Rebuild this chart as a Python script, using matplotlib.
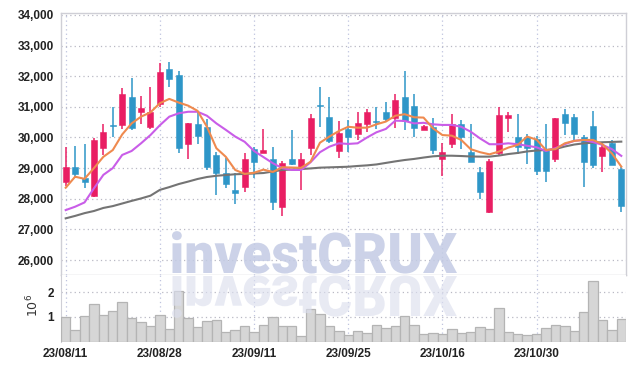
import numpy as np
import matplotlib
matplotlib.use("Agg")
import matplotlib.pyplot as plt
from matplotlib.textpath import TextPath
from matplotlib.patches import PathPatch
from matplotlib.font_manager import FontProperties
from matplotlib.transforms import Affine2D

# trading days (Korean market, 2023)
dates = ["23/08/11", "23/08/14", "23/08/16", "23/08/17", "23/08/18", "23/08/21", "23/08/22",
         "23/08/23", "23/08/24", "23/08/25", "23/08/28", "23/08/29", "23/08/30", "23/08/31",
         "23/09/01", "23/09/04", "23/09/05", "23/09/06", "23/09/07", "23/09/08", "23/09/11",
         "23/09/12", "23/09/13", "23/09/14", "23/09/15", "23/09/18", "23/09/19", "23/09/20",
         "23/09/21", "23/09/22", "23/09/25", "23/09/26", "23/09/27", "23/10/04", "23/10/05",
         "23/10/06", "23/10/10", "23/10/11", "23/10/12", "23/10/13", "23/10/16", "23/10/17",
         "23/10/18", "23/10/19", "23/10/20", "23/10/23", "23/10/24", "23/10/25", "23/10/26",
         "23/10/27", "23/10/30", "23/10/31", "23/11/01", "23/11/02", "23/11/03", "23/11/06",
         "23/11/07", "23/11/08", "23/11/09", "23/11/10"]

opens = [28550, 29030, 28690, 28100, 29670, 30400, 30410, 31310, 30820, 30350,
         31080, 32240, 32040, 29780, 30440, 30350, 29430, 28830, 28290, 28370,
         29620, 29510, 29300, 27730, 29290, 29030, 29670, 31040, 30680, 29570,
         30280, 30130, 30430, 30540, 30820, 30650, 31310, 31030, 30250, 30350,
         29300, 29780, 30430, 29520, 28860, 27580, 29480, 30630, 30030, 30000,
         29950, 29590, 29300, 30760, 30660, 30030, 30380, 29410, 29830, 28970]
highs = [29700, 29720, 29780, 29970, 30430, 31010, 31610, 31930, 31370, 31660,
         32420, 32480, 32170, 30480, 30820, 30600, 29520, 29320, 28830, 29510,
         29700, 30280, 29680, 29230, 30250, 29480, 30760, 31660, 31310, 30540,
         30570, 30820, 30920, 31010, 31170, 31410, 32170, 31410, 30400, 30650,
         29810, 30760, 30570, 30430, 29050, 29300, 31010, 30840, 30760, 30130,
         30050, 30430, 30650, 30930, 30760, 30080, 30870, 29830, 29920, 29050]
lows = [28400, 28680, 28360, 28070, 29430, 30000, 30280, 30240, 30430, 30280,
        31010, 31660, 29480, 29300, 29780, 28940, 28120, 28360, 27830, 28230,
        28680, 29500, 27630, 27440, 29100, 28290, 29430, 30350, 29830, 29340,
        29540, 29920, 30170, 30280, 30540, 30320, 30250, 30030, 30230, 29460,
        28750, 29670, 29620, 29190, 27990, 27530, 29430, 30170, 29450, 29130,
        28780, 28540, 29210, 30080, 29860, 28370, 29010, 28860, 29100, 27580]
closes = [29030, 28800, 28560, 29920, 30190, 30360, 31410, 30320, 30970, 30820,
          32150, 31910, 29670, 30460, 30060, 29050, 28830, 28470, 28180, 29290,
          29210, 29590, 27900, 29160, 29130, 29290, 30650, 31020, 29900, 30160,
          30000, 30460, 30820, 30500, 30600, 31220, 30540, 30320, 30380, 29590,
          29520, 30430, 30000, 29210, 28210, 29230, 30740, 30740, 29700, 29670,
          28920, 28920, 30630, 30460, 30120, 29210, 29100, 29700, 29100, 27760]

ma5 = [28360, 28720, 28650, 29000, 29370, 29590, 30100, 30460, 30680, 30820,
       31120, 31260, 31140, 31040, 30870, 30350, 29650, 29370, 28940, 28810,
       28850, 28950, 28875, 29030, 29020, 29010, 29210, 29830, 30030, 30210,
       30350, 30320, 30320, 30430, 30520, 30710, 30760, 30660, 30650, 30300,
       30080, 30060, 29920, 29620, 29520, 29450, 29540, 29670, 29760, 30030,
       29930, 29590, 29620, 29810, 29890, 29920, 29920, 29780, 29480, 29050]
ma10 = [27630, 27740, 27880, 28340, 28780, 29000, 29430, 29560, 29810, 30080,
        30400, 30680, 30790, 30840, 30840, 30710, 30460, 30250, 30030, 29860,
        29560, 29360, 29160, 29000, 28940, 28940, 29190, 29520, 29700, 29810,
        29790, 29810, 30000, 30170, 30280, 30550, 30540, 30460, 30480, 30430,
        30410, 30410, 30350, 30190, 29970, 29780, 29780, 29810, 29780, 29730,
        29680, 29560, 29650, 29780, 29890, 29920, 29850, 29760, 29620, 29400]
ma60 = [27360, 27440, 27530, 27600, 27700, 27760, 27845, 27930, 28010, 28100,
        28290, 28380, 28480, 28560, 28645, 28710, 28750, 28775, 28800, 28810,
        28825, 28840, 28890, 28940, 28955, 28970, 28990, 29015, 29025, 29035,
        29045, 29070, 29090, 29120, 29170, 29220, 29265, 29300, 29345, 29385,
        29405, 29405, 29395, 29380, 29375, 29375, 29410, 29460, 29495, 29545,
        29575, 29590, 29625, 29705, 29770, 29810, 29830, 29845, 29855, 29865]

# volume in millions of shares
volume = [1.0, 0.47, 1.04, 1.52, 1.08, 1.23, 1.6, 0.97, 0.78, 0.63,
          1.08, 0.51, 2.06, 0.97, 0.59, 0.82, 0.87, 0.37, 0.46, 0.62,
          0.37, 0.66, 0.99, 0.62, 0.62, 0.21, 1.31, 1.11, 0.62, 0.42,
          0.25, 0.44, 0.33, 0.66, 0.54, 0.62, 1.03, 0.66, 0.29, 0.33,
          0.29, 0.5, 0.33, 0.37, 0.58, 0.5, 1.36, 0.37, 0.29, 0.25,
          0.29, 0.54, 0.66, 0.62, 0.42, 1.19, 2.47, 0.87, 0.46, 0.91]

UP = "#e91e63"
DOWN = "#2e96c8"
TICKFONT = dict(family="Liberation Sans", weight="bold", size=8.5, color="#222222")

o = np.array(opens); h = np.array(highs); l = np.array(lows); c = np.array(closes)
x = np.arange(len(dates))
cols = [UP if cc >= oo else DOWN for oo, cc in zip(o, c)]

fig = plt.figure(figsize=(6.34, 3.69), dpi=100)
ax = fig.add_axes([0.0962, 0.2547, 0.8912, 0.7101])
axv = fig.add_axes([0.0962, 0.0745, 0.8912, 0.1802], sharex=ax)

# candles
ax.vlines(x, l, h, color=cols, lw=1.1, zorder=3)
body_h = np.maximum(np.abs(c - o), 40)
body_b = np.minimum(o, c)
ax.bar(x, body_h, bottom=body_b, width=0.64, color=cols, edgecolor=cols, lw=0.4, zorder=4)

# moving averages
ax.plot(x, ma60, color="#747474", lw=1.5, zorder=5)
ax.plot(x, ma10, color="#c95de8", lw=1.5, zorder=5)
ax.plot(x, ma5, color="#ef8a4f", lw=1.5, zorder=5)

ax.set_xlim(-0.5, len(dates) - 0.5)
ax.set_ylim(25510, 34065)
ax.set_yticks(range(26000, 34001, 1000))
ax.set_yticklabels([f"{v:,}" for v in range(26000, 34001, 1000)], **TICKFONT)
ax.tick_params(axis="both", length=0, pad=5)
ax.tick_params(axis="x", labelbottom=False)
ax.grid(axis="y", ls=(0, (1, 2.5)), color="#b9b9c4", lw=0.9)
ax.grid(axis="x", ls=(0, (1, 2.5)), color="#bfc3de", lw=0.9)
ax.set_axisbelow(True)
for s in ax.spines.values():
    s.set_color("#cfcfd6")
    s.set_linewidth(1.0)

# volume
axv.bar(x, volume, width=1.0, color="#d6d6d6", edgecolor="#b4b4b4", lw=0.9, zorder=3)
axv.set_ylim(0, 2.71)
axv.set_yticks([1, 2])
axv.set_yticklabels(["1", "2"], **TICKFONT)
ticks = list(range(0, len(dates), 10))
axv.set_xticks(ticks)
axv.set_xticklabels([dates[i] for i in ticks], **TICKFONT)
axv.tick_params(axis="both", length=0, pad=5)
axv.grid(axis="y", ls=(0, (1, 2.5)), color="#b9b9c4", lw=0.9)
axv.grid(axis="x", ls=(0, (1, 2.5)), color="#bfc3de", lw=0.9)
axv.set_axisbelow(True)
axv.spines["top"].set_visible(False)
axv.spines["bottom"].set_visible(False)
axv.spines["right"].set_visible(False)
axv.spines["left"].set_color("#cfcfd6")
fig.text(0.052, 0.172, r"$10^6$", rotation=90, ha="center", va="center",
         fontsize=9, color="#333333")

# watermark with reflection
fp = FontProperties(family="Roboto", weight="black")
tp = TextPath((0, 0), "investCRUX", size=54, prop=fp)
bb = tp.get_extents()
sc = 285.0 / bb.width
base = 369 - 273
main_tr = Affine2D().translate(-bb.x0, 0).scale(sc, sc * 1.05).translate(172, base).scale(0.01) + fig.dpi_scale_trans
refl_tr = Affine2D().translate(-bb.x0, 0).scale(sc, -sc * 1.05).translate(172, base - 3).scale(0.01) + fig.dpi_scale_trans
fig.add_artist(PathPatch(tp, facecolor="#c3cbe4", edgecolor="none", alpha=0.85,
                         transform=main_tr, zorder=6))
fig.add_artist(PathPatch(tp, facecolor="#dcdfee", edgecolor="none", alpha=0.65,
                         transform=refl_tr, zorder=6))

fig.savefig("out.png", dpi=100)
